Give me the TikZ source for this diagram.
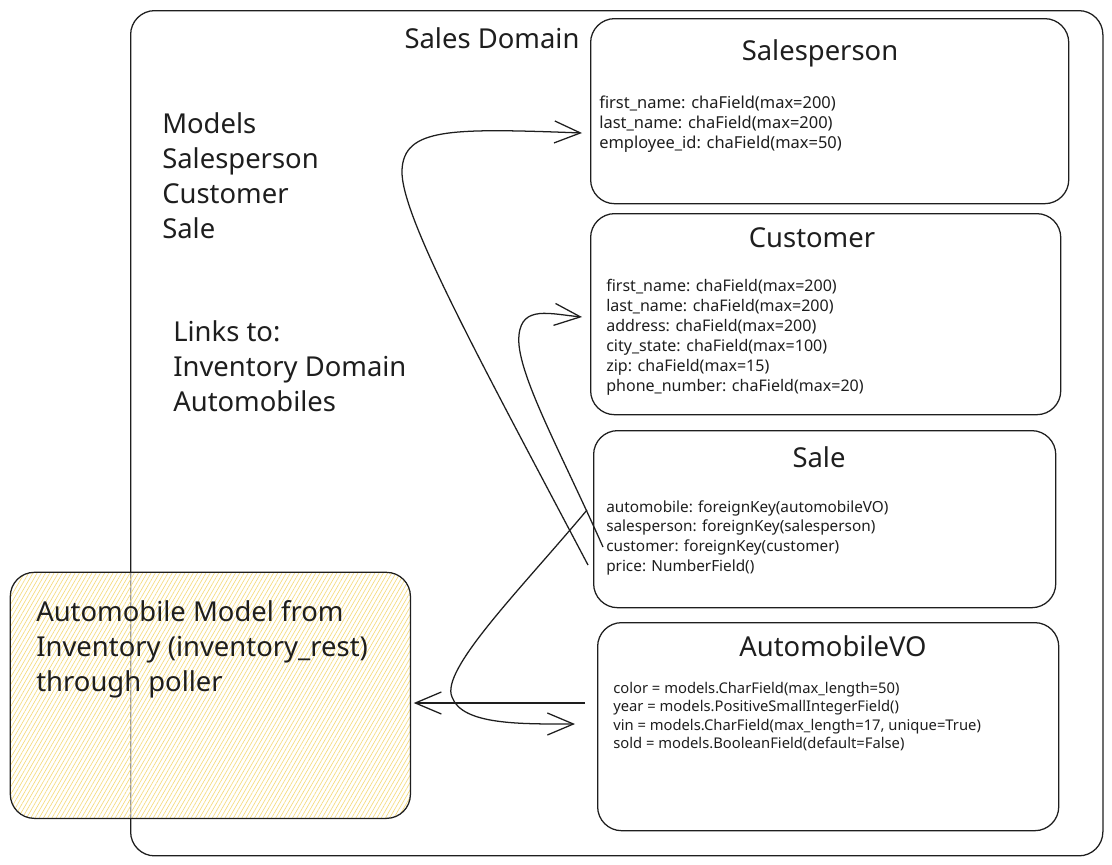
\documentclass[tikz,border=0pt]{standalone}
\usepackage{fontspec}
\setmainfont{Noto Sans}
\usetikzlibrary{calc,arrows.meta,patterns.meta}
\definecolor{ink}{HTML}{1E1E1E}
\definecolor{hatch}{RGB}{246,218,120}

\begin{document}
\begin{tikzpicture}[x=0.025cm,y=-0.025cm,
  box/.style={draw=ink, line width=0.9pt, rounded corners=0.6cm, anchor=north west, inner sep=0},
  bigtext/.style={font=\fontsize{19.5}{24.9}\selectfont, text=ink, align=left, anchor=north west, inner sep=0},
  title/.style={font=\fontsize{19.5}{24}\selectfont, text=ink},
  field/.style={text=ink, align=left, anchor=north west, inner sep=0},
  link/.style={draw=ink, line width=0.9pt, -{Straight Barb[length=6.5mm,width=5.5mm]}}]
  \useasboundingbox (0,0) rectangle (1112,864);

  % sales domain frame and the inventory box on top of it
  \node[box, minimum width=24.3cm, minimum height=21.125cm] (domain) at (130,10) {};
  \node[box, preaction={fill=white, fill opacity=0.55},
    pattern={Lines[angle=60,distance=2.6pt,line width=0.45pt]}, pattern color=hatch,
    minimum width=10cm, minimum height=6.15cm] (inventory) at (10,572) {};
  \node[title] (domainLabel) at (492,38) {Sales Domain};

  % model boxes
  \node[box, minimum width=11.95cm, minimum height=4.625cm] (salesperson) at (590,18) {};
  \node[box, minimum width=11.75cm, minimum height=5.025cm] (customer) at (590,213) {};
  \node[box, minimum width=11.55cm, minimum height=4.425cm] (sale) at (593,430) {};
  \node[box, minimum width=11.525cm, minimum height=5.2cm] (automobileVO) at (597,622) {};

  \node[title] (salespersonTitle) at (820,53) {Salesperson};
  \node[title] (customerTitle) at (812,238) {Customer};
  \node[title] (saleTitle) at (819,457) {Sale};
  \node[title] (automobileVOTitle) at (833,646) {AutomobileVO};

  \node[field, font=\fontsize{11.7}{14.2}\selectfont] (salespersonFields) at (599,96)
    {first\_name: chaField(max=200)\\last\_name: chaField(max=200)\\employee\_id: chaField(max=50)};
  \node[field, font=\fontsize{11.4}{14.2}\selectfont] (customerFields) at (606,279)
    {first\_name: chaField(max=200)\\last\_name: chaField(max=200)\\address: chaField(max=200)\\city\_state: chaField(max=100)\\zip: chaField(max=15)\\phone\_number: chaField(max=20)};
  \node[field, font=\fontsize{10.9}{14.2}\selectfont] (saleFields) at (606,500)
    {automobile: foreignKey(automobileVO)\\salesperson: foreignKey(salesperson)\\customer: foreignKey(customer)\\price: NumberField()};
  \node[field, font=\fontsize{10.5}{13}\selectfont] (automobileVOFields) at (613,682)
    {color = models.CharField(max\_length=50)\\year = models.PositiveSmallIntegerField()\\vin = models.CharField(max\_length=17, unique=True)\\sold = models.BooleanField(default=False)};

  % notes
  \node[bigtext] (modelList) at (162,112) {Models\\Salesperson\\Customer\\Sale};
  \node[bigtext] (linkList) at (173,320) {Links to:\\Inventory Domain\\Automobiles};
  \node[bigtext] (inventoryText) at (36,600) {Automobile Model from\\Inventory (inventory\_rest)\\through poller};

  % foreign keys
  \coordinate (spFrom) at ($(sale.north west)+(-5,135)$);
  \coordinate (spTip) at ($(salesperson.north west)+(-8,115)$);
  \coordinate (custFrom) at ($(sale.north west)+(10,117)$);
  \coordinate (custTip) at ($(customer.north west)+(-8,104)$);
  \coordinate (autoFrom) at ($(sale.north west)+(-6,80)$);
  \coordinate (autoTip) at ($(automobileVO.north west)+(-22,102)$);
  \coordinate (pollFrom) at ($(automobileVO.north west)+(-12,81)$);
  \coordinate (pollTip) at ($(inventory.north east)+(3,131)$);

  \draw[link] (spFrom) .. controls (480,360) and (400,215) .. (402,170)
    .. controls (404,128) and (450,128) .. (spTip);
  \draw[link] (custFrom) .. controls (560,450) and (515,370) .. (519,335)
    .. controls (522,305) and (550,314) .. (custTip);
  \draw[link] (autoFrom) .. controls (520,590) and (440,670) .. (452,697)
    .. controls (462,725) and (520,724) .. (autoTip);
  \draw[link] (pollFrom) -- (pollTip);
\end{tikzpicture}
\end{document}
